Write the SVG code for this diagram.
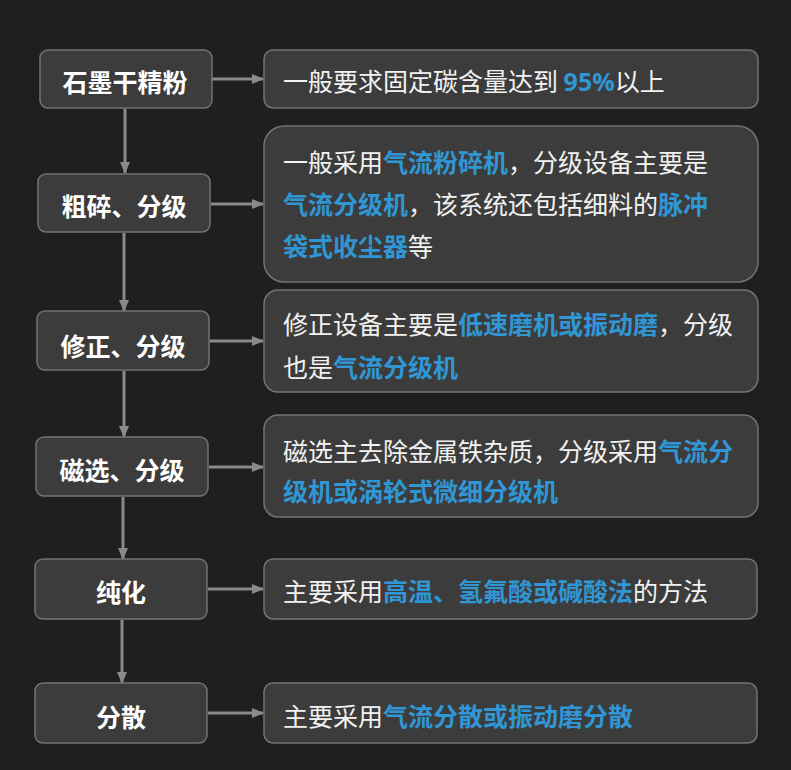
<svg xmlns="http://www.w3.org/2000/svg" width="791" height="770" viewBox="0 0 791 770">
<defs>
<marker id="ah" markerWidth="12" markerHeight="12" refX="11" refY="6" orient="auto" markerUnits="userSpaceOnUse">
<path d="M0,1 L12,6 L0,11 Z" fill="#8a8a8a"/>
</marker>
<style>
.box{fill:#3c3c3c;stroke:#737373;stroke-width:1.5}
.lbl{font-family:"Noto Sans CJK SC","Noto Sans",sans-serif;font-size:25px;font-weight:bold;fill:#ffffff;text-anchor:middle}
.txt{font-family:"Noto Sans CJK SC","Noto Sans",sans-serif;font-size:25px;fill:#f2f2f2}
.hl{fill:#3196d4;font-weight:bold}
.con{stroke:#8a8a8a;stroke-width:3;fill:none;marker-end:url(#ah)}
</style>
</defs>
<rect width="791" height="770" fill="#1f1f1f"/>
<g id="connectors">
<line class="con" x1="212" y1="79" x2="263" y2="79"/>
<line class="con" x1="211" y1="204" x2="263" y2="204"/>
<line class="con" x1="210" y1="341" x2="263" y2="341"/>
<line class="con" x1="209" y1="467" x2="263" y2="467"/>
<line class="con" x1="208" y1="589" x2="263" y2="589"/>
<line class="con" x1="208" y1="713" x2="263" y2="713"/>
<line class="con" x1="125" y1="109" x2="125" y2="173"/>
<line class="con" x1="124" y1="233" x2="124" y2="311"/>
<line class="con" x1="124" y1="371" x2="124" y2="437"/>
<line class="con" x1="123" y1="497" x2="123" y2="559"/>
<line class="con" x1="122" y1="620" x2="122" y2="683"/>
</g>
<g id="n1"><rect class="box" x="40" y="50" width="172" height="58" rx="8"/><text class="lbl" x="125" y="92">石墨干精粉</text></g>
<g id="n2"><rect class="box" x="38" y="174" width="172" height="58" rx="8"/><text class="lbl" x="124" y="216">粗碎、分级</text></g>
<g id="n3"><rect class="box" x="37" y="311" width="172" height="59" rx="8"/><text class="lbl" x="123" y="356">修正、分级</text></g>
<g id="n4"><rect class="box" x="36" y="437" width="172" height="59" rx="8"/><text class="lbl" x="122" y="480">磁选、分级</text></g>
<g id="n5"><rect class="box" x="35" y="559" width="172" height="60" rx="8"/><text class="lbl" x="121" y="602">纯化</text></g>
<g id="n6"><rect class="box" x="35" y="683" width="172" height="60" rx="8"/><text class="lbl" x="121" y="727">分散</text></g>
<g id="d1"><rect class="box" x="264" y="50" width="494" height="58" rx="9"/><text class="txt" x="283" y="91">一般要求固定碳含量达到 <tspan class="hl" font-family="'Open Sans','Noto Sans',sans-serif">95%</tspan>以上</text></g>
<g id="d2"><rect class="box" x="264" y="126" width="494" height="156" rx="20"/>
<text class="txt" x="283" y="172">一般采用<tspan class="hl">气流粉碎机</tspan>，分级设备主要是</text>
<text class="txt" x="283" y="214"><tspan class="hl">气流分级机</tspan>，该系统还包括细料的<tspan class="hl">脉冲</tspan></text>
<text class="txt" x="283" y="256"><tspan class="hl">袋式收尘器</tspan>等</text>
</g>
<g id="d3"><rect class="box" x="264" y="290" width="494" height="102" rx="14"/>
<text class="txt" x="283" y="334">修正设备主要是<tspan class="hl">低速磨机或振动磨</tspan>，分级</text>
<text class="txt" x="283" y="377">也是<tspan class="hl">气流分级机</tspan></text>
</g>
<g id="d4"><rect class="box" x="264" y="415" width="494" height="102" rx="14"/>
<text class="txt" x="283" y="461">磁选主去除金属铁杂质，分级采用<tspan class="hl">气流分</tspan></text>
<text class="txt" x="283" y="501"><tspan class="hl">级机或涡轮式微细分级机</tspan></text>
</g>
<g id="d5"><rect class="box" x="264" y="559" width="493" height="60" rx="9"/>
<text class="txt" x="283" y="601">主要采用<tspan class="hl">高温、氢氟酸或碱酸法</tspan>的方法</text>
</g>
<g id="d6"><rect class="box" x="264" y="683" width="493" height="60" rx="9"/>
<text class="txt" x="283" y="726">主要采用<tspan class="hl">气流分散或振动磨分散</tspan></text>
</g>
</svg>
